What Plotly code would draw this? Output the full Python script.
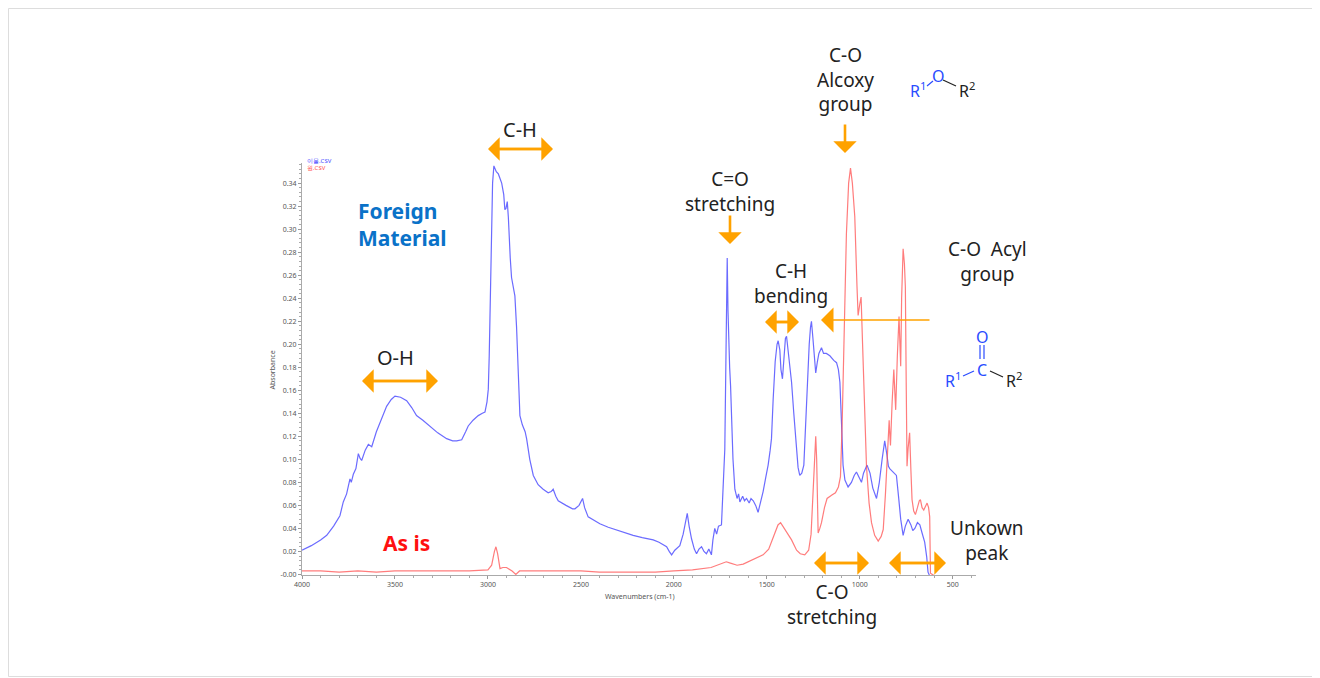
import plotly.graph_objects as go

# wavenumber (cm-1) / absorbance
blue_wn = [4000, 3950, 3900, 3867, 3830, 3796, 3778, 3760, 3742, 3735, 3724, 3710, 3697, 3688, 3679, 3660,
           3643, 3625, 3600, 3581, 3560, 3545, 3520, 3500, 3470, 3437, 3410, 3384, 3350, 3312, 3270, 3222,
           3190, 3168, 3141, 3120, 3106, 3080, 3052, 3030, 3016, 3005, 2998, 2993, 2989, 2984, 2980, 2975,
           2968, 2955, 2944, 2935, 2926, 2915, 2909, 2903, 2896, 2890, 2887, 2880, 2873, 2865, 2855, 2846,
           2838, 2828, 2815, 2800, 2792, 2775, 2756, 2730, 2703, 2676, 2660, 2649, 2635, 2622, 2580, 2545,
           2532, 2510, 2491, 2480, 2461, 2420, 2398, 2353, 2300, 2219, 2170, 2111, 2080, 2039, 2025, 2012,
           1995, 1968, 1950, 1940, 1928, 1918, 1905, 1890, 1878, 1865, 1851, 1838, 1825, 1812, 1798, 1790,
           1780, 1770, 1760, 1744, 1735, 1726, 1719, 1713, 1709, 1705, 1700, 1695, 1690, 1682, 1672, 1660,
           1652, 1645, 1630, 1620, 1609, 1595, 1585, 1573, 1560, 1547, 1535, 1520, 1505, 1493, 1482, 1475,
           1466, 1455, 1445, 1439, 1430, 1424, 1416, 1408, 1400, 1394, 1385, 1375, 1367, 1355, 1341, 1332,
           1323, 1312, 1301, 1292, 1283, 1272, 1265, 1260, 1252, 1244, 1237, 1228, 1220, 1206, 1195, 1180,
           1161, 1140, 1125, 1115, 1107, 1098, 1090, 1080, 1063, 1045, 1030, 1018, 1005, 991, 980, 961,
           945, 930, 910, 895, 880, 866, 855, 846, 839, 825, 815, 803, 790, 780, 767, 755,
           740, 725, 715, 704, 690, 677, 665, 651, 640, 633, 625, 375]
blue_abs = [0.021, 0.025, 0.030, 0.034, 0.042, 0.051, 0.063, 0.070, 0.083, 0.080, 0.087, 0.092, 0.105, 0.101, 0.099, 0.108,
            0.113, 0.111, 0.124, 0.132, 0.140, 0.146, 0.152, 0.155, 0.154, 0.151, 0.145, 0.138, 0.134, 0.129, 0.123, 0.118,
            0.116, 0.116, 0.117, 0.124, 0.129, 0.134, 0.138, 0.140, 0.141, 0.150, 0.161, 0.190, 0.224, 0.270, 0.311, 0.340,
            0.355, 0.350, 0.348, 0.344, 0.340, 0.330, 0.317, 0.318, 0.324, 0.310, 0.296, 0.275, 0.258, 0.250, 0.242, 0.215,
            0.175, 0.138, 0.130, 0.124, 0.118, 0.100, 0.086, 0.078, 0.074, 0.071, 0.072, 0.074, 0.068, 0.064, 0.060, 0.057,
            0.057, 0.060, 0.066, 0.058, 0.050, 0.046, 0.044, 0.041, 0.038, 0.034, 0.032, 0.030, 0.028, 0.024, 0.020, 0.017,
            0.021, 0.025, 0.035, 0.045, 0.053, 0.042, 0.031, 0.022, 0.018, 0.022, 0.024, 0.020, 0.018, 0.022, 0.017, 0.030,
            0.040, 0.035, 0.042, 0.043, 0.070, 0.109, 0.200, 0.275, 0.230, 0.195, 0.180, 0.164, 0.132, 0.100, 0.074, 0.066,
            0.070, 0.063, 0.068, 0.064, 0.066, 0.062, 0.066, 0.064, 0.060, 0.054, 0.062, 0.072, 0.085, 0.095, 0.108, 0.118,
            0.152, 0.185, 0.200, 0.203, 0.195, 0.178, 0.170, 0.190, 0.205, 0.207, 0.195, 0.180, 0.167, 0.140, 0.109, 0.093,
            0.086, 0.088, 0.095, 0.130, 0.167, 0.200, 0.215, 0.220, 0.205, 0.185, 0.175, 0.185, 0.192, 0.197, 0.192, 0.192,
            0.190, 0.186, 0.184, 0.178, 0.167, 0.130, 0.095, 0.082, 0.076, 0.080, 0.086, 0.089, 0.085, 0.080, 0.088, 0.095,
            0.088, 0.075, 0.066, 0.080, 0.100, 0.116, 0.105, 0.094, 0.092, 0.090, 0.088, 0.086, 0.065, 0.048, 0.034, 0.042,
            0.048, 0.043, 0.038, 0.040, 0.045, 0.043, 0.036, 0.028, 0.015, 0.002, -0.001, -0.001]

red_wn = [4000, 3900, 3800, 3700, 3600, 3500, 3400, 3300, 3200, 3100, 3000, 2980, 2965, 2957, 2948, 2935,
          2920, 2900, 2870, 2850, 2830, 2700, 2500, 2400, 2300, 2100, 2000, 1900, 1800, 1718, 1700, 1660,
          1627, 1560, 1520, 1490, 1466, 1440, 1426, 1410, 1394, 1367, 1340, 1320, 1296, 1275, 1262, 1251,
          1242, 1237, 1232, 1224, 1215, 1206, 1190, 1176, 1150, 1131, 1115, 1104, 1095, 1090, 1080, 1072,
          1060, 1050, 1040, 1027, 1015, 1009, 1000, 993, 985, 978, 970, 964, 950, 937, 920, 901,
          885, 874, 862, 852, 846, 842, 838, 835, 826, 817, 812, 807, 798, 789, 784, 780,
          775, 767, 760, 755, 750, 746, 740, 732, 725, 719, 710, 701, 690, 680, 674, 665,
          656, 645, 638, 630, 624, 620, 600, 375]
red_abs = [0.003, 0.003, 0.002, 0.003, 0.002, 0.003, 0.003, 0.003, 0.003, 0.003, 0.004, 0.008, 0.020, 0.024, 0.018, 0.005,
           0.006, 0.006, 0.003, 0.000, 0.003, 0.003, 0.003, 0.002, 0.002, 0.002, 0.003, 0.004, 0.006, 0.011, 0.010, 0.008,
           0.009, 0.014, 0.017, 0.022, 0.033, 0.043, 0.045, 0.041, 0.037, 0.030, 0.021, 0.018, 0.017, 0.021, 0.035, 0.079,
           0.112, 0.120, 0.100, 0.036, 0.040, 0.045, 0.058, 0.066, 0.069, 0.071, 0.076, 0.085, 0.130, 0.166, 0.250, 0.296,
           0.340, 0.353, 0.340, 0.311, 0.250, 0.225, 0.235, 0.241, 0.200, 0.166, 0.125, 0.094, 0.062, 0.045, 0.034, 0.029,
           0.033, 0.039, 0.070, 0.108, 0.125, 0.134, 0.120, 0.112, 0.150, 0.178, 0.160, 0.143, 0.190, 0.224, 0.200, 0.181,
           0.240, 0.283, 0.270, 0.250, 0.160, 0.094, 0.110, 0.123, 0.090, 0.065, 0.055, 0.052, 0.058, 0.064, 0.065, 0.058,
           0.056, 0.060, 0.062, 0.058, 0.050, 0.001, -0.001, -0.001]

x_ticks = [4000, 3500, 3000, 2500, 2000, 1500, 1000, 500]
y_ticks = [0.0, 0.02, 0.04, 0.06, 0.08, 0.10, 0.12, 0.14, 0.16, 0.18, 0.20, 0.22, 0.24, 0.26, 0.28, 0.30, 0.32, 0.34]
y_labels = ["-0.00"] + ["%.2f" % v for v in y_ticks[1:]]

# page body has an 8px margin, so the figure is drawn 8px in from the window corner
OFF = 8
W, H = 1320 - OFF, 678 - OFF
L, R, T, B = 302, 976, 163, 575
ORANGE = "#ffa200"
FONT = "Noto Sans"


def px(x):
    return (x - L) / (R - L)


def py(y):
    return (B - y) / (B - T)


fig = go.Figure()
fig.add_trace(go.Scatter(x=blue_wn, y=blue_abs, mode="lines", name="이물.CSV",
                         line=dict(color="rgba(70,70,255,0.8)", width=1.2)))
fig.add_trace(go.Scatter(x=red_wn, y=red_abs, mode="lines", name="원.CSV",
                         line=dict(color="rgba(255,80,80,0.75)", width=1.2)))

ann = []


def text(x, y, s, size=20, color="#222", bold=False, align="center"):
    if bold:
        s = "<b>" + s.replace("<br>", "</b><br><b>") + "</b>"
    ann.append(dict(x=px(x), y=py(y), xref="paper", yref="paper", text=s, showarrow=False,
                    font=dict(family=FONT, size=size, color=color), align=align,
                    xanchor="center" if align == "center" else "left", yanchor="middle"))


def arrow(x, y, ax, ay, width=2.6, size=1.5):
    ann.append(dict(x=px(x), y=py(y), xref="paper", yref="paper", text="", showarrow=True,
                    ax=ax, ay=ay, axref="pixel", ayref="pixel", arrowhead=1,
                    arrowsize=size, arrowwidth=width, arrowcolor=ORANGE, standoff=0, startstandoff=0))


def double_arrow(x0, x1, y):
    # each head's tail reaches the far end, so the shaft has no gap
    arrow(x0, y, x1 - x0, 0)
    arrow(x1, y, x0 - x1, 0)


text(356, 224, "Foreign<br>Material", size=21, color="#0a72c8", bold=True, align="left")
text(406, 543, "As is", size=21, color="#ff1010", bold=True)
text(395, 357, "O-H")
double_arrow(362, 438, 381)
text(520, 130, "C-H")
double_arrow(488, 553, 149)
text(730, 191, "C=O<br>stretching", size=19)
arrow(730, 244, 0, -30)
text(791, 283, "C-H<br>bending", size=19)
double_arrow(765, 799, 322)
arrow(821, 320, 110, 0, width=1.6, size=2.6)
text(845, 80, "C-O<br>Alcoxy<br>group", size=19)
arrow(845, 153, 0, -30)
text(987, 261, "C-O  Acyl<br>group", size=19)
text(987, 540, "Unkown<br>peak", size=19)
double_arrow(814, 869, 563)
double_arrow(889, 946, 563)
text(832, 604, "C-O<br>stretching", size=19)

# ether R1-O-R2
text(918, 90, "R<sup>1</sup>", size=16, color="#2a4cff")
text(938, 76, "O", size=16, color="#2a4cff")
text(967, 90, "R<sup>2</sup>", size=16, color="#222")
# ketone R1-C(=O)-R2
text(982, 337, "O", size=16, color="#2a4cff")
text(982, 370, "C", size=16, color="#2a4cff")
text(953, 380, "R<sup>1</sup>", size=16, color="#2a4cff")
text(1014, 380, "R<sup>2</sup>", size=16, color="#222")

# tiny legend labels
text(305, 161, "이물.CSV", size=6, color="#4646ff", align="left")
text(305, 168, "원.CSV", size=6, color="#ff5050", align="left")
text(640, 596, "Wavenumbers (cm-1)", size=7, color="#555")
ann.append(dict(x=px(265), y=py(370), xref="paper", yref="paper", text="Absorbance", showarrow=False,
                textangle=-90, font=dict(family=FONT, size=7, color="#555")))

shapes = [
    dict(type="line", xref="paper", yref="paper", x0=px(927), y0=py(86), x1=px(933), y1=py(81),
         line=dict(color="#2a4cff", width=1.2)),
    dict(type="line", xref="paper", yref="paper", x0=px(943), y0=py(80), x1=px(956), y1=py(86),
         line=dict(color="#222", width=1.2)),
    dict(type="line", xref="paper", yref="paper", x0=px(980), y0=py(345), x1=px(980), y1=py(359),
         line=dict(color="#2a4cff", width=1.2)),
    dict(type="line", xref="paper", yref="paper", x0=px(984), y0=py(345), x1=px(984), y1=py(359),
         line=dict(color="#2a4cff", width=1.2)),
    dict(type="line", xref="paper", yref="paper", x0=px(963), y0=py(376), x1=px(974), y1=py(371),
         line=dict(color="#2a4cff", width=1.2)),
    dict(type="line", xref="paper", yref="paper", x0=px(990), y0=py(371), x1=px(1003), y1=py(377),
         line=dict(color="#222", width=1.2)),
    dict(type="rect", xref="paper", yref="paper", x0=px(8.5), y0=py(676.5), x1=px(1318.5), y1=py(8.5),
         line=dict(color="#dddddd", width=1)),
]

fig.update_layout(
    width=W, height=H,
    margin=dict(l=L - OFF, r=W - (R - OFF), t=T - OFF, b=H - (B - OFF)),
    plot_bgcolor="white", paper_bgcolor="white",
    showlegend=False,
    annotations=ann, shapes=shapes,
    xaxis=dict(range=[4000, 375], tickvals=x_ticks, ticks="outside", ticklen=3, tickcolor="#999",
               showline=True, linecolor="#aaa", linewidth=1, showgrid=False, zeroline=False,
               tickfont=dict(family=FONT, size=7, color="#555"),
               minor=dict(dtick=100, ticks="outside", ticklen=2, tickcolor="#aaa")),
    yaxis=dict(range=[-0.0005, 0.3575], tickvals=y_ticks, ticktext=y_labels, ticks="outside", ticklen=3,
               tickcolor="#999", showline=True, linecolor="#aaa", linewidth=1, showgrid=False,
               zeroline=False, tickfont=dict(family=FONT, size=7, color="#555"),
               minor=dict(dtick=0.004, ticks="outside", ticklen=2, tickcolor="#aaa")),
)

fig.write_html("out.html")
